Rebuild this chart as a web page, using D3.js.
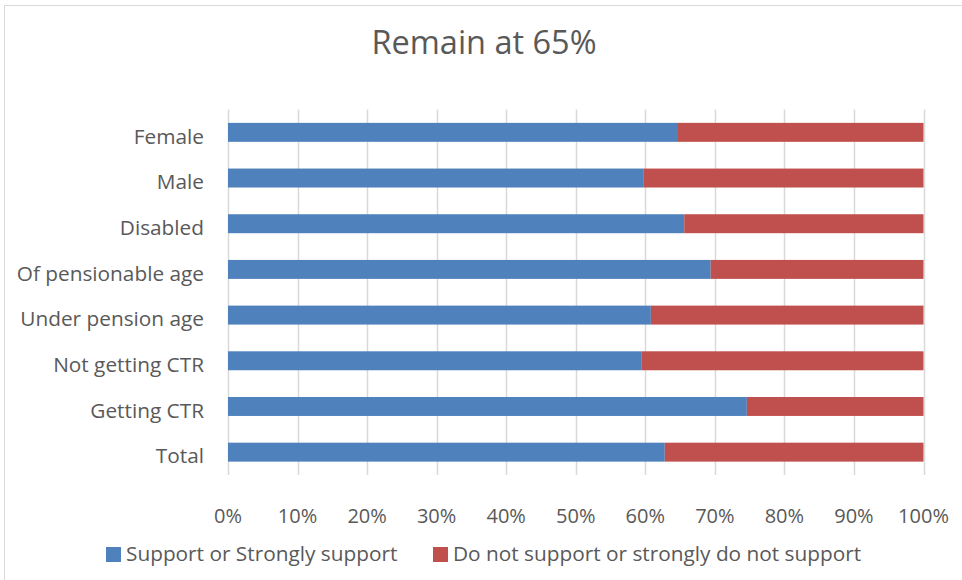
<!DOCTYPE html>
<html>
<head>
<meta charset="utf-8">
<script src="https://cdn.jsdelivr.net/npm/d3@7"></script>
<style>
  html, body { margin: 0; padding: 0; background: #fff; }
  svg { display: block; font-family: "Open Sans", "Noto Sans", sans-serif; }
</style>
</head>
<body>
<svg id="chart" width="962" height="580"></svg>
<script>
// Groups, top to bottom
const categories = ["Female", "Male", "Disabled", "Of pensionable age", "Under pension age", "Not getting CTR", "Getting CTR", "Total"];
// Share (%) that support or strongly support
const supportValues = [64.7, 59.7, 65.6, 69.4, 60.8, 59.5, 74.6, 62.8];
// Share (%) that do not support or strongly do not support
const opposeValues = supportValues.map(v => 100 - v);
const seriesNames = ["Support or Strongly support", "Do not support or strongly do not support"];
const tickValues = [0, 10, 20, 30, 40, 50, 60, 70, 80, 90, 100];

const colors = ["#4f81bd", "#c0504d"];
const textColor = "#595959";

const svg = d3.select("#chart");

// Outer frame
svg.append("rect")
  .attr("x", 4.5).attr("y", 5.5)
  .attr("width", 962).attr("height", 580)
  .attr("fill", "none").attr("stroke", "#d9d9d9").attr("stroke-width", 1);

const plot = { left: 228, right: 923.5, top: 109.5, bottom: 475 };

const x = d3.scaleLinear().domain([0, 100]).range([plot.left, plot.right]);
const y = d3.scaleBand().domain(categories).range([plot.top, plot.bottom]).paddingInner(0.585).paddingOuter(0.2925);

// Title
svg.append("text")
  .attr("x", 484).attr("y", 54)
  .attr("text-anchor", "middle")
  .attr("font-size", 32.5)
  .attr("fill", textColor)
  .text("Remain at 65%");

// Vertical gridlines
svg.append("g")
  .selectAll("line")
  .data(tickValues)
  .join("line")
  .attr("x1", d => Math.round(x(d)) + 0.5).attr("x2", d => Math.round(x(d)) + 0.5)
  .attr("y1", plot.top).attr("y2", plot.bottom)
  .attr("stroke", "#d9d9d9").attr("stroke-width", 1.5);

// Stacked bars
const rows = categories.map((c, i) => ({ cat: c, vals: [supportValues[i], opposeValues[i]] }));
const stack = d3.stack().keys([0, 1]).value((d, k) => d.vals[k]);
const layers = stack(rows);

svg.append("g")
  .selectAll("g")
  .data(layers)
  .join("g")
  .attr("fill", (d, i) => colors[i])
  .selectAll("rect")
  .data(d => d)
  .join("rect")
  .attr("x", d => x(d[0]))
  .attr("width", d => x(d[1]) - x(d[0]))
  .attr("y", d => y(d.data.cat))
  .attr("height", y.bandwidth());

// Category labels
svg.append("g")
  .selectAll("text")
  .data(categories)
  .join("text")
  .attr("x", 204)
  .attr("y", d => y(d) + y.bandwidth() / 2 + 4)
  .attr("dy", "0.35em")
  .attr("text-anchor", "end")
  .attr("font-size", 20.8)
  .attr("fill", textColor)
  .text(d => d);

// X axis tick labels
svg.append("g")
  .selectAll("text")
  .data(tickValues)
  .join("text")
  .attr("x", d => x(d))
  .attr("y", 516)
  .attr("dy", "0.35em")
  .attr("text-anchor", "middle")
  .attr("font-size", 20)
  .attr("fill", textColor)
  .text(d => d + "%");

// Legend
const legendX = [106, 433];
const legend = svg.append("g")
  .selectAll("g")
  .data(seriesNames)
  .join("g")
  .attr("transform", (d, i) => `translate(${legendX[i]},547)`);
legend.append("rect")
  .attr("width", 15).attr("height", 15)
  .attr("fill", (d, i) => colors[i]);
legend.append("text")
  .attr("x", 20).attr("y", 6.5)
  .attr("dy", "0.35em")
  .attr("font-size", 20.8)
  .attr("fill", textColor)
  .text(d => d);
</script>
</body>
</html>
